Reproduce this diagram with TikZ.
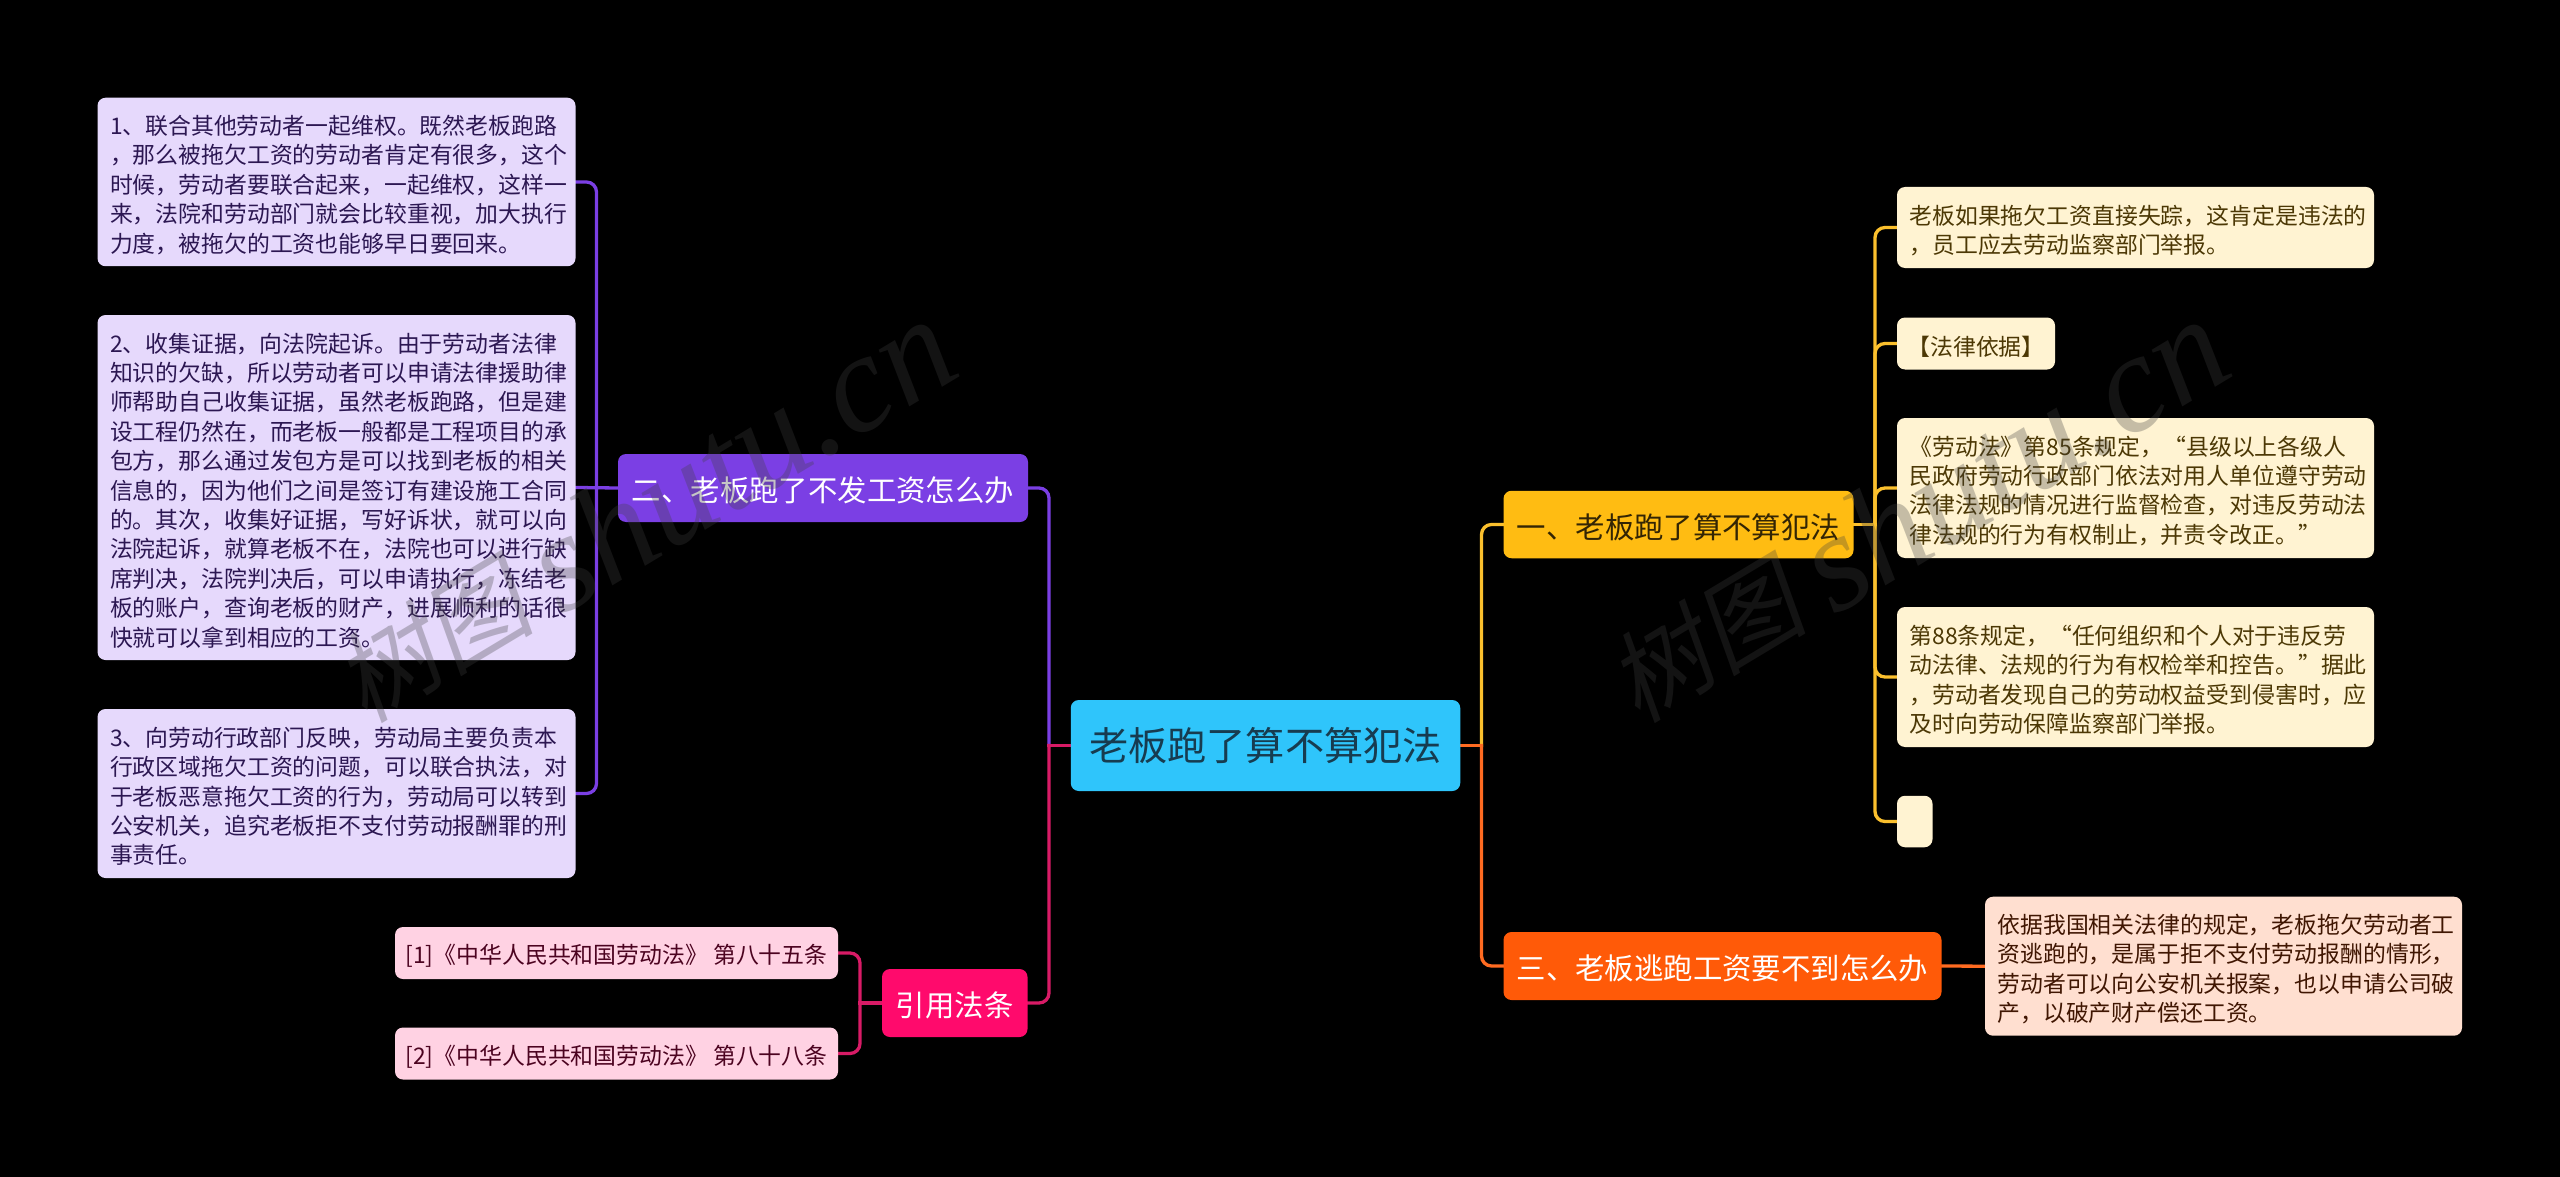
\documentclass[tikz,border=0pt]{standalone}
\usepackage{fontspec}
\usetikzlibrary{backgrounds}
\setmainfont{Noto Sans CJK SC}
\newfontfamily\wmcjk[FakeSlant=0.2]{Noto Sans CJK SC}
\newfontfamily\wmlatin{Liberation Serif}
\hfuzz=100pt
\definecolor{cCenter}{HTML}{2FC5FB}
\definecolor{cCenterT}{HTML}{173C50}
\definecolor{cPurple}{HTML}{7B3FE4}
\definecolor{cYellow}{HTML}{FFBC12}
\definecolor{cYellowL}{HTML}{FBC02D}
\definecolor{cOrange}{HTML}{FF5A08}
\definecolor{cPink}{HTML}{FF0A6C}
\definecolor{cPinkL}{HTML}{D81B66}
\definecolor{cLav}{HTML}{E6D9FC}
\definecolor{cCream}{HTML}{FFF3D2}
\definecolor{cPeach}{HTML}{FFDFD0}
\definecolor{cRose}{HTML}{FFD2E3}
\tikzset{
  x=1pt,y=-1pt,
  card/.style={rounded corners=8pt,inner sep=0pt,align=left,font=\fontsize{22.86}{29.4}\selectfont,execute at begin node={\rule{0pt}{25pt}}},
  lavcard/.style={card,fill=cLav,text=black!60!cPurple!90!black},
  creamcard/.style={card,fill=cCream,text=cYellow!30!black},
  peachcard/.style={card,fill=cPeach,text=cOrange!25!black},
  rosecard/.style={card,fill=cRose,text=cPink!30!black},
  topic/.style={rounded corners=8pt,inner sep=0pt,align=center,font=\fontsize{29.39}{36}\selectfont,execute at begin node={\rule{0pt}{29.5pt}}},
  conn/.style={line width=3.3pt,rounded corners=10pt,line cap=rect},
  wm/.style={inner sep=0pt,rotate=31,text=black!75,text opacity=0.3}
}
\newcommand{\wmtext}{\raisebox{8pt}{\fontsize{100}{110}\selectfont\wmcjk 树图}\hspace{24pt}{\fontsize{140}{150}\selectfont\wmlatin\itshape shutu.cn}}
\begin{document}
\begin{tikzpicture}
\begin{pgfonlayer}{background}
\fill[black] (0,0) rectangle (2560,1177);
\end{pgfonlayer}
\useasboundingbox (0,0) rectangle (2560,1177);
\coordinate (lv) at (1049,0);
\coordinate (rv) at (1481.5,0);
\coordinate (pv) at (596.5,0);
\coordinate (yv) at (1875,0);
\coordinate (kv) at (860,0);

\node[rounded corners=8pt,inner sep=0pt,fill=cCenter,text=cCenterT,font=\fontsize{39.2}{46}\selectfont,minimum width=389.5pt,minimum height=91pt] (root) at (1265.5,745.5) {老板跑了算不算犯法};

\node[topic,fill=cPurple,text=white,minimum width=410pt,minimum height=68pt] (t2) at (823,488) {二、老板跑了不发工资怎么办};
\node[topic,fill=cPink,text=white,minimum width=145.5pt,minimum height=68pt] (t4) at (954.75,1003) {引用法条};
\node[topic,fill=cYellow,text=cYellow!20!black,minimum width=350pt,minimum height=67.5pt] (t1) at (1678.5,524.5) {一、老板跑了算不算犯法};
\node[topic,fill=cOrange,text=white,minimum width=438pt,minimum height=68pt] (t3) at (1722.5,966) {三、老板逃跑工资要不到怎么办};

\node[lavcard,minimum width=478pt,minimum height=168.5pt,text width=453pt] (p1) at (336.5,182) {1、联合其他劳动者一起维权。既然老板跑路\\，那么被拖欠工资的劳动者肯定有很多，这个\\时候，劳动者要联合起来，一起维权，这样一\\来，法院和劳动部门就会比较重视，加大执行\\力度，被拖欠的工资也能够早日要回来。};
\node[lavcard,minimum width=478pt,minimum height=345pt,text width=453pt] (p2) at (336.5,487.5) {2、收集证据，向法院起诉。由于劳动者法律\\知识的欠缺，所以劳动者可以申请法律援助律\\师帮助自己收集证据，虽然老板跑路，但是建\\设工程仍然在，而老板一般都是工程项目的承\\包方，那么通过发包方是可以找到老板的相关\\信息的，因为他们之间是签订有建设施工合同\\的。其次，收集好证据，写好诉状，就可以向\\法院起诉，就算老板不在，法院也可以进行缺\\席判决，法院判决后，可以申请执行，冻结老\\板的账户，查询老板的财产，进展顺利的话很\\快就可以拿到相应的工资。};
\node[lavcard,minimum width=478pt,minimum height=169pt,text width=453pt] (p3) at (336.5,793.5) {3、向劳动行政部门反映，劳动局主要负责本\\行政区域拖欠工资的问题，可以联合执法，对\\于老板恶意拖欠工资的行为，劳动局可以转到\\公安机关，追究老板拒不支付劳动报酬罪的刑\\事责任。};

\node[rosecard,align=center,minimum width=443pt,minimum height=52pt] (r1) at (616.5,953) {[1]《中华人民共和国劳动法》 第八十五条};
\node[rosecard,align=center,minimum width=443pt,minimum height=52pt] (r2) at (616.5,1053.5) {[2]《中华人民共和国劳动法》 第八十八条};

\node[creamcard,minimum width=477pt,minimum height=81pt,text width=452pt] (y1) at (2135.5,227.5) {老板如果拖欠工资直接失踪，这肯定是违法的\\，员工应去劳动监察部门举报。};
\node[creamcard,align=center,minimum width=158pt,minimum height=52pt] (y2) at (1976,343.5) {【法律依据】};
\node[creamcard,minimum width=477pt,minimum height=140pt,text width=452pt] (y3) at (2135.5,488) {《劳动法》第85条规定，“县级以上各级人\\民政府劳动行政部门依法对用人单位遵守劳动\\法律法规的情况进行监督检查，对违反劳动法\\律法规的行为有权制止，并责令改正。”};
\node[creamcard,minimum width=477pt,minimum height=140pt,text width=452pt] (y4) at (2135.5,677) {第88条规定，“任何组织和个人对于违反劳\\动法律、法规的行为有权检举和控告。”据此\\，劳动者发现自己的劳动权益受到侵害时，应\\及时向劳动保障监察部门举报。};
\node[rounded corners=8pt,inner sep=0pt,fill=cCream,minimum width=35.5pt,minimum height=51.5pt] (y5) at (1914.75,821.5) {};

\node[peachcard,minimum width=477pt,minimum height=139pt,text width=452pt] (o1) at (2223.5,966.2) {依据我国相关法律的规定，老板拖欠劳动者工\\资逃跑的，是属于拒不支付劳动报酬的情形，\\劳动者可以向公安机关报案，也以申请公司破\\产，以破产财产偿还工资。};

% connectors, under the nodes
\begin{pgfonlayer}{background}
\coordinate (jl) at (lv|-root.west);
\coordinate (jr) at (rv|-root.east);
\coordinate (jp) at (pv|-t2.west);
\coordinate (jk) at (kv|-t4.west);
\coordinate (jy) at (yv|-t1.east);
\draw[conn,cPurple] (jl) -- (lv|-t2.east) -- (t2.east);
\draw[conn,cPinkL] (jl) -- (lv|-t4.east) -- (t4.east);
\draw[conn,cPinkL] (root.west) -- (jl);
\draw[conn,cYellowL] (jr) -- (rv|-t1.west) -- (t1.west);
\draw[conn,cOrange!90!white] (jr) -- (rv|-t3.west) -- (t3.west);
\draw[conn,cOrange!90!white] (root.east) -- (jr);

\draw[conn,cPurple] (jp) -- (pv|-p1.east) -- (p1.east);
\draw[conn,cPurple] (jp) -- (pv|-p3.east) -- (p3.east);
\draw[conn,cPurple] (t2.west) -- (p2.east);

\draw[conn,cPinkL] (jk) -- (kv|-r1.east) -- (r1.east);
\draw[conn,cPinkL] (jk) -- (kv|-r2.east) -- (r2.east);
\draw[conn,cPinkL] (t4.west) -- (jk);

\draw[conn,cYellowL] (jy) -- (yv|-y1.west) -- (y1.west);
\draw[conn,cYellowL] (jy) -- (yv|-y2.west) -- (y2.west);
\draw[conn,cYellowL] (jy) -- (yv|-y3.west) -- (y3.west);
\draw[conn,cYellowL] (jy) -- (yv|-y4.west) -- (y4.west);
\draw[conn,cYellowL] (jy) -- (yv|-y5.west) -- (y5.west);
\draw[conn,cYellowL] (t1.east) -- (jy);

\draw[conn,cOrange!90!white] (t3.east) -- (o1.west);
\end{pgfonlayer}

% watermarks
\node[wm] (wa) at (643,512) {\wmtext};
\node[wm] (wb) at (1916,512) {\wmtext};
\end{tikzpicture}
\end{document}
